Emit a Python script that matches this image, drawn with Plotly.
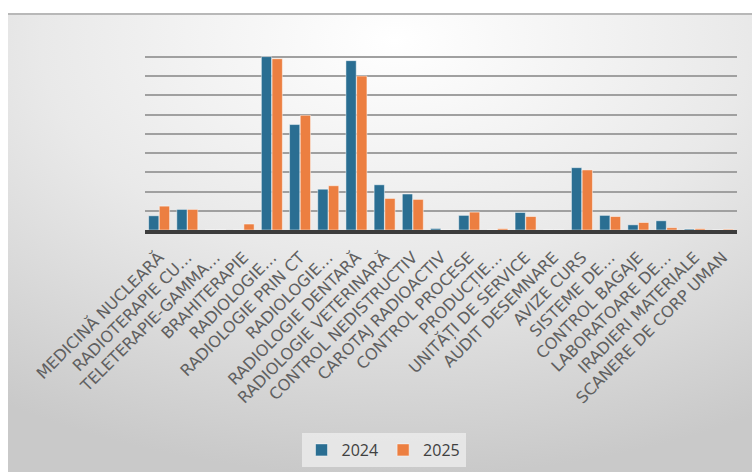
import base64
import plotly.graph_objects as go

categories = [
    "MEDICINĂ NUCLEARĂ", "RADIOTERAPIE CU…", "TELETERAPIE-GAMMA…", "BRAHITERAPIE",
    "RADIOLOGIE…", "RADIOLOGIE PRIN CT", "RADIOLOGIE…", "RADIOLOGIE DENTARĂ",
    "RADIOLOGIE VETERINARĂ", "CONTROL NEDISTRUCTIV", "CAROTAJ RADIOACTIV",
    "CONTROL PROCESE", "PRODUCȚIE…", "UNITĂȚI DE SERVICE", "AUDIT DESEMNARE",
    "AVIZE CURS", "SISTEME DE…", "CONTROL BAGAJE", "LABORATOARE DE…",
    "IRADIERI MATERIALE", "SCANERE DE CORP UMAN",
]
values_2024 = [7.4, 10.7, 0, 0, 90.1, 54.8, 21.2, 88.0, 23.5, 18.7, 0.8,
               7.6, 0, 9.1, 0, 32.4, 7.6, 2.7, 4.8, 0.5, 0]
values_2025 = [12.4, 10.7, 0, 3.1, 89.0, 59.6, 23.0, 80.0, 16.4, 15.9, 0,
               9.3, 0.7, 7.0, 0, 31.2, 7.0, 3.9, 1.2, 0.7, 0.4]
series_names = ["2024", "2025"]

# x positions as unique ids so duplicate labels stay separate categories
xpos = list(range(len(categories)))

W, H = 752, 472
L, R, T, B = 145, 15, 37, 242
pw, ph = W - L - R, H - T - B

svg = f'''<svg xmlns="http://www.w3.org/2000/svg" width="744" height="459" viewBox="0 0 744 459" preserveAspectRatio="none">
<defs><radialGradient id="g" cx="52%" cy="6%" r="95%" fx="52%" fy="6%">
<stop offset="0" stop-color="#ffffff"/><stop offset="0.5" stop-color="#e9e9e9"/><stop offset="1" stop-color="#c9c9c9"/>
</radialGradient></defs>
<rect x="0" y="0" width="744" height="459" fill="url(#g)"/>
<rect x="0" y="0" width="744" height="2" fill="#b8b8b8"/>
</svg>'''
src = "data:image/svg+xml;base64," + base64.b64encode(svg.encode()).decode()

fig = go.Figure()
fig.add_trace(go.Bar(x=xpos, y=values_2024, name=series_names[0],
                     marker=dict(color="#2a6e92", line=dict(color="rgba(255,255,255,0.6)", width=0.8))))
fig.add_trace(go.Bar(x=xpos, y=values_2025, name=series_names[1],
                     marker=dict(color="#ec7f41", line=dict(color="rgba(255,255,255,0.6)", width=0.8))))

fig.add_layout_image(dict(
    source=src, xref="paper", yref="paper",
    x=(8 - L) / pw, y=(H - B - 13) / ph,
    sizex=744 / pw, sizey=459 / ph,
    xanchor="left", yanchor="top", sizing="stretch", layer="below",
))

fig.update_layout(
    width=W, height=H,
    margin=dict(l=L, r=R, t=T, b=B),
    paper_bgcolor="white", plot_bgcolor="rgba(0,0,0,0)",
    barmode="group", bargap=0.24, bargroupgap=0.04,
    font=dict(family="DejaVu Sans", color="#595959"),
    legend=dict(orientation="h", x=0.51, xref="container", xanchor="center",
                y=1 - 450 / H, yref="container", yanchor="middle",
                bgcolor="rgba(236,236,236,0.8)",
                font=dict(family="Open Sans", size=16, color="#404040"),
                itemwidth=30, traceorder="normal"),
    xaxis=dict(tickmode="array", tickvals=xpos, ticktext=categories,
               tickangle=-45, tickfont=dict(family="DejaVu Sans", size=16, color="#606060"),
               ticklabelstandoff=8,
               showline=True, linecolor="#3c3c3c", linewidth=3.5,
               showgrid=False, ticks="", range=[-0.5, len(categories) - 0.5]),
    yaxis=dict(range=[0, 100.3], dtick=10, showticklabels=False, showgrid=True,
               gridcolor="#a0a0a0", gridwidth=1.7, zeroline=False, ticks=""),
)

fig.write_html("out.html")
